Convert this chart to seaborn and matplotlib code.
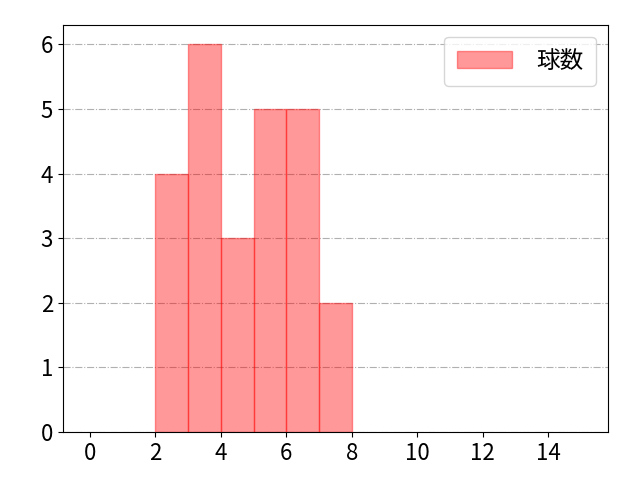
import seaborn as sns
import matplotlib.pyplot as plt
import pandas as pd

# bin start of each one-wide bin and its count
bin_starts = [2, 3, 4, 5, 6, 7]
counts = [4, 6, 3, 5, 5, 2]
label = "球数"

df = pd.DataFrame({"x": bin_starts, "n": counts})

sns.set_style("white")
plt.rcParams['font.family'] = ['Noto Sans CJK JP', 'DejaVu Sans']
plt.rcParams['text.color'] = 'black'

fig, ax = plt.subplots(figsize=(6.4, 4.8), dpi=100)

sns.histplot(data=df, x="x", weights="n", binwidth=1, binrange=(2, 8), color="red",
             alpha=0.4, edgecolor="red", linewidth=1, label=label, ax=ax)
for p in ax.patches:
    p.set_alpha(0.4)

ax.set_xlim(-0.83, 15.83)
ax.set_ylim(0, 6.3)
ax.set_xticks(range(0, 15, 2))
ax.grid(axis="y", color="#b0b0b0", linestyle="-.", linewidth=0.8)
ax.set_axisbelow(True)
ax.set_xlabel("")
ax.set_ylabel("")
ax.tick_params(labelsize=16, left=True, bottom=True, length=3.5,
               colors="black", labelcolor="black")
for s in ax.spines.values():
    s.set_color("black")
leg = ax.legend(loc="upper right", handlelength=2.35, handletextpad=1.0,
                borderpad=0.55, prop={"size": 17})
for h in leg.legend_handles:
    h.set_alpha(0.4)
for t in leg.get_texts():
    t.set_color("black")

fig.subplots_adjust(left=0.098, right=0.95, top=0.948, bottom=0.1)
fig.savefig("out.png")
